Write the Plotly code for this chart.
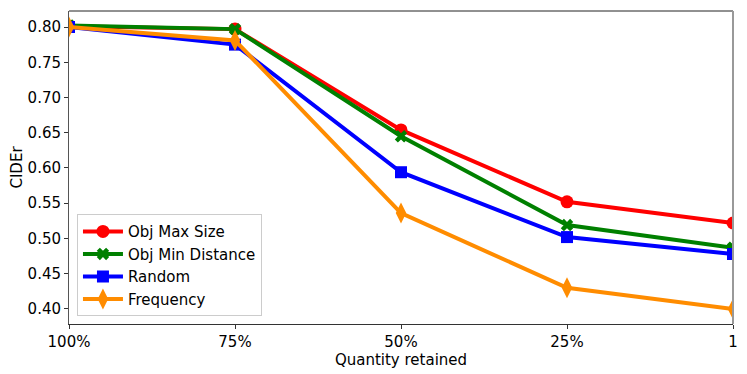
import plotly.graph_objects as go

categories = ["100%", "75%", "50%", "25%", "1"]
obj_max_size = [0.801, 0.797, 0.654, 0.552, 0.522]
obj_min_distance = [0.802, 0.797, 0.645, 0.519, 0.487]
random_sel = [0.800, 0.775, 0.594, 0.502, 0.478]
frequency = [0.800, 0.781, 0.536, 0.430, 0.400]
y_ticks = [0.40, 0.45, 0.50, 0.55, 0.60, 0.65, 0.70, 0.75, 0.80]

series = [
    ("Obj Max Size", obj_max_size, "red", "circle", 13),
    ("Obj Min Distance", obj_min_distance, "green", "x", 11),
    ("Random", random_sel, "blue", "square", 12),
    ("Frequency", frequency, "darkorange", "diamond-tall", 15),
]

fig = go.Figure()
for name, vals, color, sym, size in series:
    fig.add_trace(go.Scatter(
        x=list(range(len(categories))), y=vals, name=name, mode="lines+markers",
        line=dict(color=color, width=4),
        marker=dict(symbol=sym, size=size, color=color, line=dict(width=0)),
    ))

font = "DejaVu Sans"
fig.update_layout(
    width=747, height=374,
    margin=dict(l=61, r=22, t=3, b=58),
    plot_bgcolor="white", paper_bgcolor="white",
    font=dict(family=font, size=15, color="black"),
    showlegend=True,
    legend=dict(x=0.012, y=0.025, xanchor="left", yanchor="bottom",
                bgcolor="white", bordercolor="#cccccc", borderwidth=1,
                font=dict(size=15), tracegroupgap=0, itemwidth=40),
    xaxis=dict(
        range=[0, 4], tickmode="array", tickvals=list(range(len(categories))),
        ticktext=categories, showgrid=False, zeroline=False,
        showline=True, linecolor="#333333", linewidth=1,
        ticks="outside", ticklen=4, tickcolor="#333333", automargin=False,
        title=dict(text="Quantity retained", font=dict(size=15), standoff=0),
    ),
    yaxis=dict(
        range=[0.3787, 0.8227], tickmode="array", tickvals=y_ticks,
        ticktext=[f"{v:.2f}" for v in y_ticks], showgrid=False, zeroline=False,
        showline=True, linecolor="#555555", linewidth=1,
        ticks="outside", ticklen=4, tickcolor="#333333", automargin=False,
        title=dict(text="CIDEr", font=dict(size=15), standoff=6),
    ),
    shapes=[
        dict(type="line", xref="paper", yref="paper", x0=0, x1=1, y0=1, y1=1,
             line=dict(color="#222222", width=1)),
        dict(type="line", xref="paper", yref="paper", x0=1, x1=1, y0=0, y1=1,
             line=dict(color="#999999", width=2)),
    ],
)

fig.write_html("out.html")
